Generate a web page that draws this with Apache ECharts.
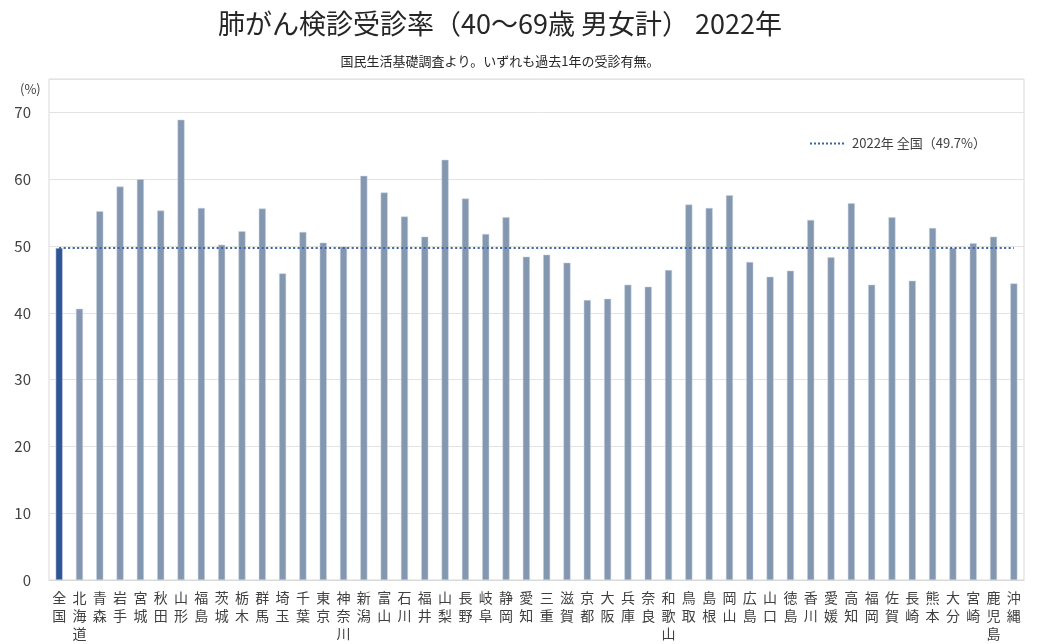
<!DOCTYPE html>
<html>
<head>
<meta charset="utf-8">
<script src="https://cdn.jsdelivr.net/npm/echarts@6/dist/echarts.min.js"></script>
<style>
html,body{margin:0;padding:0;background:#fff;}
#main{width:1056px;height:644px;}
</style>
</head>
<body>
<div id="main"></div>
<script>
const prefectures = ['全国','北海道','青森','岩手','宮城','秋田','山形','福島','茨城','栃木','群馬','埼玉','千葉','東京','神奈川','新潟','富山','石川','福井','山梨','長野','岐阜','静岡','愛知','三重','滋賀','京都','大阪','兵庫','奈良','和歌山','鳥取','島根','岡山','広島','山口','徳島','香川','愛媛','高知','福岡','佐賀','長崎','熊本','大分','宮崎','鹿児島','沖縄'];
const rates = [49.7,40.6,55.2,58.9,60.0,55.3,68.9,55.7,50.2,52.2,55.6,45.9,52.1,50.5,49.9,60.5,58.0,54.4,51.4,62.9,57.1,51.8,54.3,48.4,48.7,47.5,41.9,42.1,44.2,43.9,46.4,56.2,55.7,57.6,47.6,45.4,46.3,53.9,48.3,56.4,44.2,54.3,44.8,52.7,49.7,50.4,51.4,44.4];
const nationalRate = 49.7;
const refName = '2022年 全国（49.7%）';
const yTicks = [0,10,20,30,40,50,60,70];

// dotted legend icon: 9 small squares
let dotPath = 'path://';
for (let i = 0; i < 9; i++) dotPath += 'M' + (i * 4) + ',0h2v2h-2z';

const FONT = '"Noto Sans CJK JP", "Noto Sans", sans-serif';
const chart = echarts.init(document.getElementById('main'));
chart.setOption({
  animation: false,
  backgroundColor: '#fff',
  textStyle: { fontFamily: FONT },
  title: [
    { text: '肺がん検診受診率（40～69歳 男女計） 2022年', left: 495, top: 5, textAlign: 'center',
      textStyle: { fontFamily: FONT, fontSize: 27, fontWeight: 'normal', color: '#262626' } },
    { text: '国民生活基礎調査より。いずれも過去1年の受診有無。', left: 495, top: 50, textAlign: 'center',
      textStyle: { fontFamily: FONT, fontSize: 13, fontWeight: 'normal', color: '#262626' } },
    { text: '(%)', left: 15, top: 78,
      textStyle: { fontFamily: FONT, fontSize: 13, fontWeight: 'normal', color: '#404040' } }
  ],
  legend: {
    data: [refName], left: 805, top: 132, itemWidth: 34, itemHeight: 2, itemGap: 6, icon: dotPath,
    textStyle: { fontFamily: FONT, fontSize: 13, color: '#404040', padding: [0, 0, 0, 3] }
  },
  grid: { left: 49, right: 32, top: 79, bottom: 64, show: true, borderColor: '#d9d9d9', borderWidth: 1 },
  xAxis: {
    type: 'category', data: prefectures,
    axisLine: { lineStyle: { color: '#d9d9d9' } },
    axisTick: { show: false },
    axisLabel: { interval: 0, margin: 9, fontFamily: FONT, fontSize: 14, lineHeight: 18, color: '#404040',
      verticalAlign: 'top', formatter: v => v.split('').join('\n') }
  },
  yAxis: {
    type: 'value', min: 0, max: 75, interval: 10,
    axisLine: { show: false }, axisTick: { show: false },
    splitLine: { lineStyle: { color: '#e3e3e3' } },
    axisLabel: { fontFamily: FONT, fontSize: 15, color: '#404040', margin: 18, showMaxLabel: false,
      formatter: v => yTicks.includes(v) ? String(v) : '' }
  },
  series: [
    {
      type: 'bar', name: 'rate', barWidth: 7,
      data: rates.map((v, i) => i === 0 ? { value: v, itemStyle: { color: '#2F5597' } } : v),
      itemStyle: { color: '#8497B0', borderColor: '#c9d2df', borderWidth: 0.5 },
      markLine: {
        silent: true, symbol: 'none', label: { show: false },
        lineStyle: { color: '#3B62A3', width: 2, type: [2, 2.5] },
        data: [[ { coord: [prefectures[0], nationalRate] }, { coord: [prefectures[prefectures.length - 1], nationalRate] } ]]
      }
    },
    {
      type: 'line', name: refName, data: [], symbol: 'none', showSymbol: false,
      lineStyle: { color: '#3B62A3', width: 2, type: [2, 2.5] },
      itemStyle: { color: '#3B62A3' }
    }
  ]
});
</script>
</body>
</html>
